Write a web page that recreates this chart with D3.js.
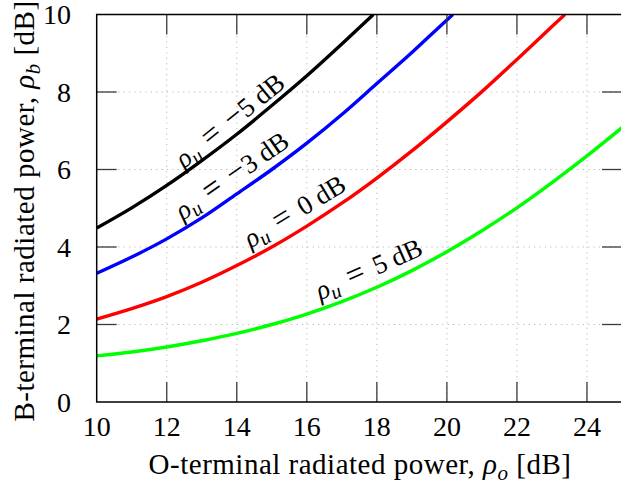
<!DOCTYPE html>
<html>
<head>
<meta charset="utf-8">
<script src="https://cdn.jsdelivr.net/npm/d3@7"></script>
<style>
  html, body { margin: 0; padding: 0; background: #fff; }
  svg { display: block; }
  text { font-family: "Liberation Serif", "Times New Roman", serif; fill: #000; }
</style>
</head>
<body>
<svg id="chart" width="621" height="485"></svg>
<script>
// O-terminal radiated power (dB) sample points
const rhoO = [10, 11, 12, 13, 14, 15, 16, 17, 18, 19, 20, 21, 22, 23, 24, 25];

// B-terminal radiated power (dB) for each uplink power rho_u
const rhoU = [-5, -3, 0, 5];
const bMinus5 = [4.49, 5.01, 5.59, 6.23, 6.91, 7.65, 8.42, 9.24];
const bMinus3 = [3.32, 3.74, 4.21, 4.75, 5.37, 6.00, 6.68, 7.42, 8.22, 9.02, 9.86];
const bZero   = [2.14, 2.41, 2.72, 3.09, 3.52, 4.00, 4.54, 5.13, 5.78, 6.48, 7.23, 8.01, 8.84, 9.69];
const bPlus5  = [1.19, 1.29, 1.42, 1.58, 1.77, 2.00, 2.27, 2.59, 2.96, 3.39, 3.88, 4.42, 5.01, 5.66, 6.35, 7.08];

// where each curve leaves the top of the axes (rho_o, rho_b = 10)
const exitX = [17.9, 20.17, 23.37, null];

const seriesColors = ["#000000", "#0000ff", "#ff0000", "#00ff00"];

// tick values
const xTicks = [10, 12, 14, 16, 18, 20, 22, 24];
const yTicks = [0, 2, 4, 6, 8, 10];

// rho_o position of each inline curve label
const labelAt = [14.07, 14.15, 15.93, 18.0];

const svg = d3.select("#chart");
const L = 96.7, R = 622, T = 14.5, B = 402;

const x = d3.scaleLinear().domain([10, 25]).range([L, R]);
const y = d3.scaleLinear().domain([0, 10]).range([B, T]);

svg.append("defs").append("clipPath").attr("id", "plotClip")
  .append("rect").attr("x", L).attr("y", T).attr("width", R - L).attr("height", B - T);

// dotted grid
const grid = svg.append("g")
  .attr("stroke", "#b8b8b8").attr("stroke-width", 1).attr("stroke-dasharray", "1.2,4.2");
grid.selectAll("line.vx").data(xTicks.filter(v => v > 10)).join("line")
  .attr("x1", d => x(d)).attr("x2", d => x(d)).attr("y1", T).attr("y2", B);
grid.selectAll("line.hy").data(yTicks.filter(v => v > 0 && v < 10)).join("line")
  .attr("x1", L).attr("x2", R).attr("y1", d => y(d)).attr("y2", d => y(d));

// build the series
const allB = [bMinus5, bMinus3, bZero, bPlus5];
const series = allB.map((vals, i) => {
  const pts = vals.map((v, j) => ({ x: rhoO[j], y: v }));
  if (exitX[i] !== null) pts.push({ x: exitX[i], y: 10 });
  return pts;
});

const line = d3.line().x(d => x(d.x)).y(d => y(d.y)).curve(d3.curveMonotoneX);

svg.append("g").attr("clip-path", "url(#plotClip)")
  .selectAll("path").data(series).join("path")
  .attr("d", line)
  .attr("fill", "none")
  .attr("stroke", (d, i) => seriesColors[i])
  .attr("stroke-width", 3.4)
  .attr("stroke-linejoin", "round");

// axes frame with inward ticks on all four sides
const tickLen = 20;
const ticks = svg.append("g").attr("stroke", "#3a3a3a").attr("stroke-width", 1.3);
xTicks.filter(v => v > 10).forEach(v => {
  ticks.append("line").attr("x1", x(v)).attr("x2", x(v)).attr("y1", B).attr("y2", B - tickLen);
  ticks.append("line").attr("x1", x(v)).attr("x2", x(v)).attr("y1", T).attr("y2", T + tickLen);
});
yTicks.filter(v => v > 0 && v < 10).forEach(v => {
  ticks.append("line").attr("x1", L).attr("x2", L + tickLen).attr("y1", y(v)).attr("y2", y(v));
  ticks.append("line").attr("x1", R).attr("x2", R - tickLen).attr("y1", y(v)).attr("y2", y(v));
});

svg.append("rect")
  .attr("x", L).attr("y", T).attr("width", R - L).attr("height", B - T)
  .attr("fill", "none").attr("stroke", "#000").attr("stroke-width", 1.5);

// tick labels
svg.append("g").selectAll("text").data(xTicks).join("text")
  .attr("x", d => x(d)).attr("y", 436)
  .attr("text-anchor", "middle").attr("font-size", 28)
  .text(d => d);
svg.append("g").selectAll("text").data(yTicks).join("text")
  .attr("x", 71).attr("y", d => y(d) + 9.5)
  .attr("text-anchor", "end").attr("font-size", 28)
  .text(d => d);

// axis titles
function rhoTitle(sel, pre, sub) {
  sel.append("tspan").text(pre);
  sel.append("tspan").attr("font-style", "italic").text("ρ");
  sel.append("tspan").attr("font-style", "italic").attr("font-size", 21).attr("dy", 6).text(sub);
  sel.append("tspan").attr("dy", -6).text(" [dB]");
}
const xt = svg.append("text").attr("x", 360).attr("y", 474)
  .attr("text-anchor", "middle").attr("font-size", 29).attr("letter-spacing", 0.5);
rhoTitle(xt, "O-terminal radiated power, ", "o");

const yt = svg.append("text")
  .attr("transform", "translate(33.5, 211) rotate(-90)")
  .attr("text-anchor", "middle").attr("font-size", 29).attr("letter-spacing", 0.5);
rhoTitle(yt, "B-terminal radiated power, ", "b");

// inline curve labels, rotated along each curve
const baseLift = [6, 9, 10, 11];
const labels = svg.append("g");
series.forEach((pts, i) => {
  const interp = d3.scaleLinear().domain(pts.map(p => p.x)).range(pts.map(p => p.y));
  const xv = labelAt[i];
  const px = x(xv), py = y(interp(xv));
  const dx = x(xv + 0.1) - x(xv - 0.1);
  const dy = y(interp(xv + 0.1)) - y(interp(xv - 0.1));
  const ang = Math.atan2(dy, dx) * 180 / Math.PI;
  const t = labels.append("text")
    .attr("transform", `translate(${px},${py}) rotate(${ang})`)
    .attr("x", 0).attr("y", -baseLift[i])
    .attr("text-anchor", "middle").attr("font-size", 27);
  t.append("tspan").attr("font-style", "italic").text("ρ");
  t.append("tspan").attr("font-style", "italic").attr("font-size", 20).attr("dy", 5).text("u");
  const v = rhoU[i];
  t.append("tspan").attr("dy", -5).attr("font-size", 32).text("\u2004=\u2004");
  if (v < 0) t.append("tspan").attr("font-size", 32).text("\u2212");
  t.append("tspan").text(Math.abs(v) + " dB");
});
</script>
</body>
</html>
